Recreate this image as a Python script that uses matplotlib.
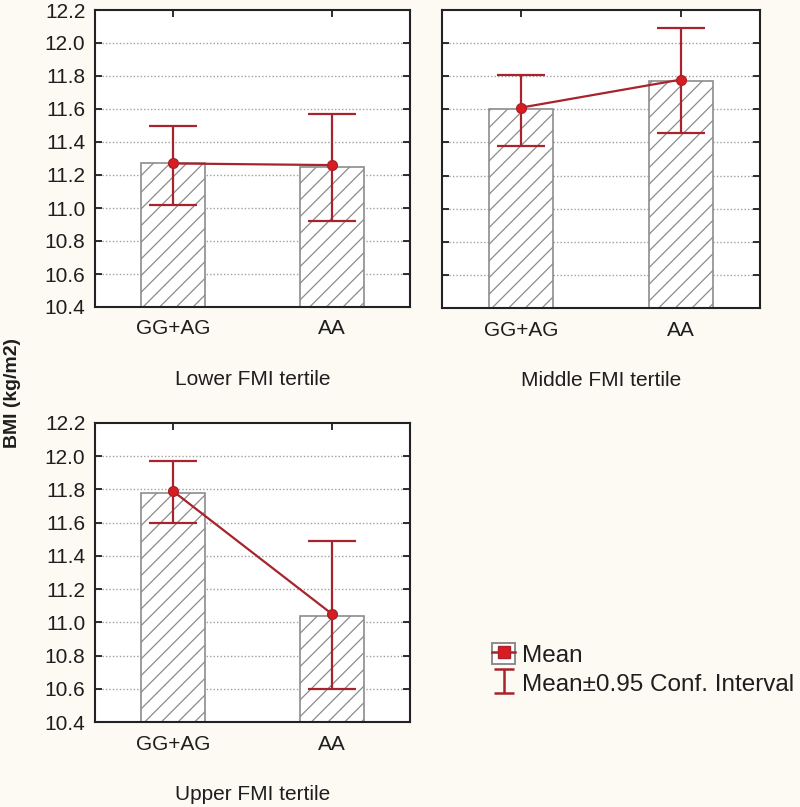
import matplotlib.pyplot as plt
from matplotlib.patches import Rectangle
from matplotlib.lines import Line2D

plt.rcParams['font.family'] = ['Liberation Sans', 'DejaVu Sans']
plt.rcParams['hatch.color'] = '#8c8c8c'
plt.rcParams['hatch.linewidth'] = 0.9

genotypes = ['GG+AG', 'AA']
tertiles = ['Lower FMI tertile', 'Middle FMI tertile', 'Upper FMI tertile']
means = [[11.27, 11.26], [11.61, 11.78], [11.79, 11.05]]
bar_tops = [[11.27, 11.25], [11.60, 11.77], [11.78, 11.04]]
ci_low = [[11.02, 10.92], [11.38, 11.46], [11.60, 10.60]]
ci_high = [[11.50, 11.57], [11.81, 12.09], [11.97, 11.49]]
yticks = [10.4, 10.6, 10.8, 11.0, 11.2, 11.4, 11.6, 11.8, 12.0, 12.2]

line_col = '#a8232b'
dot_col = '#d81c22'
txt_col = '#1e1e1e'
bg = '#fcfaf3'

fig = plt.figure(figsize=(8, 8.07), dpi=100, facecolor=bg)
boxes = [
    [95 / 800, 1 - 307 / 807, 315 / 800, 297 / 807],
    [442 / 800, 1 - 308 / 807, 318 / 800, 298 / 807],
    [95 / 800, 1 - 722 / 807, 315 / 800, 299 / 807],
]

for i, box in enumerate(boxes):
    ax = fig.add_axes(box)
    x = list(range(len(genotypes)))
    ax.bar(x, [t - 10.4 for t in bar_tops[i]], bottom=10.4, width=0.4,
           color='white', edgecolor='#8c8c8c', hatch='//', linewidth=1.2, zorder=2)
    lo = [m - l for m, l in zip(means[i], ci_low[i])]
    hi = [h - m for m, h in zip(means[i], ci_high[i])]
    ax.errorbar(x, means[i], yerr=[lo, hi], fmt='none', ecolor=line_col,
                elinewidth=1.6, capsize=17, capthick=1.6, zorder=3)
    ax.plot(x, means[i], color=line_col, lw=1.6, marker='o', ms=7,
            mfc=dot_col, mec=line_col, zorder=4)
    ax.set_xlim(-0.49, 1.49)
    ax.set_ylim(10.4, 12.2)
    ax.set_xticks(x)
    ax.set_xticklabels(genotypes)
    ax.set_yticks(yticks)
    if i == 1:
        ax.set_yticklabels([])
    else:
        ax.set_yticklabels(['%.1f' % v for v in yticks])
    for v in yticks[1:-1]:
        ax.axhline(v, color='#a0a0a0', lw=1, ls=(0, (1, 1.5)), zorder=1)
    ax.tick_params(direction='in', length=5, width=1.3, top=True, right=True,
                   labelsize=15, pad=7, colors=txt_col)
    ax.tick_params(axis='x', pad=9)
    for s in ax.spines.values():
        s.set_linewidth(1.5)
        s.set_color('#222222')
    ax.set_xlabel(tertiles[i], fontsize=15, labelpad=23, color=txt_col)
    ax.set_facecolor('white')

fig.text(0.016, 1 - 393 / 807, 'BMI (kg/m2)', rotation=90, ha='center', va='center',
         fontsize=14, fontweight='bold', color=txt_col)

# legend
hax = fig.add_axes([0, 0, 1, 1])
hax.set_xlim(0, 1)
hax.set_ylim(0, 1)
hax.axis('off')
mean_handle = (Rectangle((0, 0), 1, 1, facecolor='white', edgecolor='#8c8c8c', lw=1.4),
               Line2D([], [], color=line_col, lw=1.8, marker='s', ms=8,
                      mfc=dot_col, mec=line_col))
ci_handle = hax.errorbar([-5], [-5], yerr=[1], fmt='none', ecolor=line_col,
                         elinewidth=1.8, capsize=7.5, capthick=1.8)
hax.legend([mean_handle, ci_handle], ['Mean', 'Mean\u00b10.95 Conf. Interval'],
           loc='upper left', bbox_to_anchor=(492 / 800, 1 - 643 / 807), frameon=False,
           fontsize=17.5, handlelength=0.95, handleheight=0.95, handletextpad=0.3,
           labelspacing=0.2, borderaxespad=0, borderpad=0, labelcolor=txt_col)

fig.savefig('out.png', dpi=100, facecolor=bg)
